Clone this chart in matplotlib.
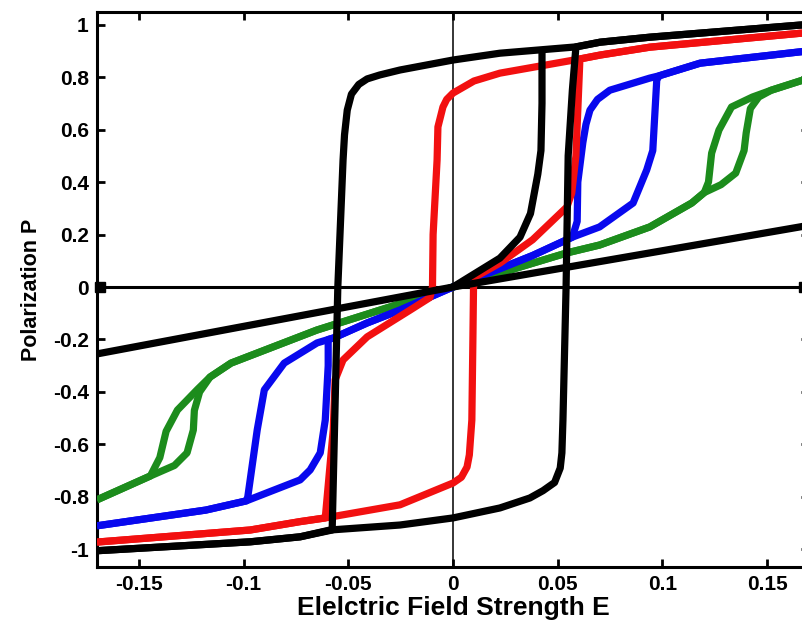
import matplotlib
matplotlib.use("Agg")
import matplotlib.pyplot as plt

plt.rcParams['font.family'] = ['Liberation Sans', 'DejaVu Sans']
plt.rcParams['font.weight'] = 'bold'

# ---- data ----
# black: main loop (descending / ascending), linear line, curve from origin
black_desc_x = [0.17, 0.1655, 0.094, 0.0703, 0.0587, 0.0224, 0.0, -0.0253, -0.035, -0.041, -0.045, -0.0485, -0.0505, -0.0518, -0.0525, -0.055, -0.0577, -0.073, -0.0968, -0.17]
black_desc_y = [1.0, 0.998, 0.952, 0.933, 0.915, 0.891, 0.865, 0.827, 0.808, 0.793, 0.772, 0.735, 0.674, 0.58, 0.484, 0.0, -0.926, -0.952, -0.971, -1.005]
black_asc_x = [-0.17, -0.0968, -0.073, -0.0587, -0.0253, 0.0, 0.0224, 0.0367, 0.043, 0.0485, 0.0512, 0.052, 0.0525, 0.054, 0.055, 0.057, 0.0587, 0.0703, 0.094, 0.1655, 0.17]
black_asc_y = [-1.005, -0.971, -0.952, -0.926, -0.907, -0.88, -0.842, -0.804, -0.776, -0.745, -0.69, -0.632, -0.507, 0.0, 0.5, 0.75, 0.915, 0.933, 0.952, 0.998, 1.0]
black_line_x = [-0.17, 0.0, 0.17]
black_line_y = [-0.255, 0.0, 0.235]
black_init_x = [0.0, 0.0224, 0.032, 0.037, 0.0405, 0.042, 0.0425, 0.0425]
black_init_y = [0.0, 0.11, 0.19, 0.28, 0.43, 0.52, 0.7, 0.903]

red_desc_x = [0.17, 0.094, 0.0703, 0.0606, 0.0224, 0.01, 0.0, -0.003, -0.0048, -0.0072, -0.0076, -0.0095, -0.0098, -0.011, -0.0205, -0.041, -0.0525, -0.0563, -0.0572, -0.061, -0.073, -0.0968, -0.17]
red_desc_y = [0.97, 0.914, 0.884, 0.869, 0.815, 0.785, 0.739, 0.715, 0.686, 0.61, 0.484, 0.2, 0.0, -0.04, -0.088, -0.19, -0.278, -0.354, -0.545, -0.88, -0.894, -0.926, -0.972]
red_asc_x = [-0.17, -0.0968, -0.073, -0.061, -0.0253, 0.0, 0.004, 0.0067, 0.0078, 0.009, 0.0095, 0.0098, 0.011, 0.0224, 0.038, 0.0544, 0.0567, 0.0587, 0.0606, 0.0703, 0.094, 0.17]
red_asc_y = [-0.972, -0.926, -0.894, -0.88, -0.83, -0.747, -0.725, -0.686, -0.64, -0.507, -0.2, 0.0, 0.04, 0.091, 0.18, 0.305, 0.358, 0.5, 0.869, 0.884, 0.914, 0.97]

blue_desc_x = [0.17, 0.118, 0.0985, 0.0939, 0.0749, 0.069, 0.0654, 0.0635, 0.062, 0.0596, 0.0593, 0.057, 0.038, 0.0224, 0.0, -0.0253, -0.041, -0.057, -0.0649, -0.0806, -0.0901, -0.0935, -0.098, -0.0987, -0.118, -0.17]
blue_desc_y = [0.9, 0.853, 0.805, 0.796, 0.75, 0.715, 0.674, 0.62, 0.55, 0.4, 0.25, 0.19, 0.12, 0.07, 0.0, -0.088, -0.137, -0.194, -0.213, -0.29, -0.392, -0.545, -0.8, -0.815, -0.85, -0.91]
blue_asc_x = [-0.17, -0.118, -0.0987, -0.0939, -0.073, -0.0682, -0.0634, -0.061, -0.0596, -0.0596, -0.057, -0.041, -0.0253, 0.0, 0.0224, 0.038, 0.057, 0.070, 0.086, 0.0925, 0.0954, 0.0973, 0.0985, 0.118, 0.17]
blue_asc_y = [-0.91, -0.85, -0.815, -0.8, -0.735, -0.697, -0.632, -0.507, -0.3, -0.2, -0.194, -0.137, -0.088, 0.0, 0.07, 0.12, 0.19, 0.229, 0.32, 0.446, 0.52, 0.789, 0.805, 0.853, 0.9]

green_desc_x = [0.17, 0.152, 0.143, 0.133, 0.127, 0.1235, 0.122, 0.12, 0.114, 0.094, 0.070, 0.0544, 0.0224, 0.0, -0.065, -0.106, -0.116, -0.122, -0.1316, -0.137, -0.140, -0.1445, -0.17]
green_desc_y = [0.796, 0.75, 0.724, 0.686, 0.598, 0.51, 0.40, 0.36, 0.32, 0.229, 0.16, 0.13, 0.053, 0.0, -0.164, -0.29, -0.343, -0.39, -0.469, -0.55, -0.65, -0.72, -0.811]
green_asc_x = [-0.17, -0.1445, -0.133, -0.127, -0.124, -0.1235, -0.121, -0.116, -0.106, -0.065, 0.0, 0.0224, 0.0544, 0.070, 0.094, 0.114, 0.12, 0.128, 0.135, 0.139, 0.140, 0.142, 0.146, 0.152, 0.17]
green_asc_y = [-0.811, -0.72, -0.68, -0.632, -0.545, -0.47, -0.40, -0.343, -0.29, -0.164, 0.0, 0.053, 0.13, 0.16, 0.229, 0.32, 0.36, 0.39, 0.434, 0.52, 0.587, 0.68, 0.724, 0.75, 0.796]

x_ticks = [-0.15, -0.1, -0.05, 0, 0.05, 0.1, 0.15]
x_tick_labels = ['-0.15', '-0.1', '-0.05', '0', '0.05', '0.1', '0.15']
y_ticks = [-1, -0.8, -0.6, -0.4, -0.2, 0, 0.2, 0.4, 0.6, 0.8, 1]
y_tick_labels = ['-1', '-0.8', '-0.6', '-0.4', '-0.2', '0', '0.2', '0.4', '0.6', '0.8', '1']

# ---- figure ----
fig = plt.figure(figsize=(8.02, 6.29), dpi=100)
ax = fig.add_axes([97/802, 1 - 567/629, (809 - 97)/802, (567 - 12)/629])
ax.set_xlim(-0.17, 0.17)
ax.set_ylim(-1.067, 1.048)

lw = 5.2
ax.axvline(0, color='black', lw=1.1, zorder=1)
ax.plot([-0.1685, 0.1675], [0, 0], color='black', lw=2.2, marker='s', markersize=7, zorder=1, clip_on=False)

for xs, ys, c in [(green_desc_x, green_desc_y, '#1c8c1c'), (green_asc_x, green_asc_y, '#1c8c1c'),
                  (blue_desc_x, blue_desc_y, '#0808ee'), (blue_asc_x, blue_asc_y, '#0808ee'),
                  (red_desc_x, red_desc_y, '#f21010'), (red_asc_x, red_asc_y, '#f21010'),
                  (black_desc_x, black_desc_y, 'black'), (black_asc_x, black_asc_y, 'black'),
                  (black_line_x, black_line_y, 'black'), (black_init_x, black_init_y, 'black')]:
    ax.plot(xs, ys, color=c, lw=lw, solid_joinstyle='round', solid_capstyle='butt', zorder=3)

ax.set_xticks(x_ticks)
ax.set_xticklabels(x_tick_labels)
ax.set_yticks(y_ticks)
ax.set_yticklabels(y_tick_labels)
ax.tick_params(direction='in', length=6, width=2, labelsize=15, top=True, right=True, pad=6)
for lbl in ax.get_xticklabels() + ax.get_yticklabels():
    lbl.set_fontweight('bold')
for s in ax.spines.values():
    s.set_linewidth(2.2)

ax.set_xlabel('Elelctric Field Strength E', fontsize=19, fontweight='bold', labelpad=1)
ax.set_ylabel('Polarization P', fontsize=15.5, fontweight='bold', labelpad=8)

fig.savefig('out.png', dpi=100)
